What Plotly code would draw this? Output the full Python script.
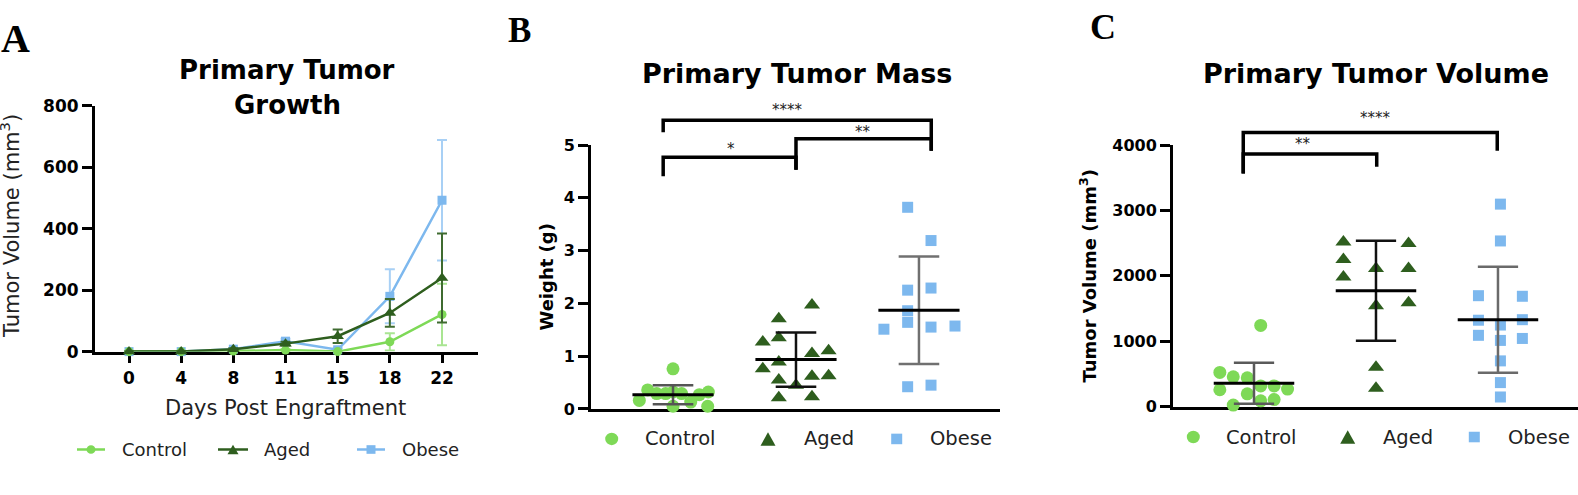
import plotly.graph_objects as go

W, H = 1578, 495
FONT = "DejaVu Sans"
SERIF = "Liberation Serif"

# ---------------- DATA ----------------
days = ["0", "4", "8", "11", "15", "18", "22"]
growth_control = [0, 0, 2, 5, 0, 32, 121]
growth_control_err = [0, 0, 2, 3, 0, 28, 100]
growth_aged = [0, 0, 8, 26, 50, 126, 240]
growth_aged_err = [0, 0, 3, 6, 22, 45, 145]
growth_obese = [0, 0, 8, 34, 6, 180, 493]
growth_obese_err = [0, 0, 4, 8, 5, 88, 196]

groups = ["Control", "Aged", "Obese"]

mass_control = [0.76, 0.36, 0.16, 0.29, 0.29, 0.32, 0.29, 0.05, 0.13, 0.27, 0.32, 0.05]
mass_control_jit = [0.0, -0.206, -0.274, -0.133, -0.06, 0.0, 0.07, 0.0, 0.144, 0.214, 0.287, 0.282]
mass_aged = [1.97, 1.71, 1.27, 1.35, 1.05, 1.10, 0.89, 0.76, 0.55, 0.45, 0.62, 0.63, 0.21, 0.23]
mass_aged_jit = [0.13, -0.14, -0.27, -0.14, 0.13, 0.265, -0.14, -0.27, -0.14, 0.0, 0.13, 0.265, -0.14, 0.13]
mass_obese = [3.82, 3.19, 2.25, 2.29, 1.86, 1.64, 1.51, 1.55, 1.57, 0.42, 0.45]
mass_obese_jit = [-0.092, 0.098, -0.092, 0.098, -0.092, -0.092, -0.285, 0.098, 0.293, -0.092, 0.098]
mass_mean = [0.27, 0.935, 1.87]
mass_sd = [0.18, 0.515, 1.02]

vol_control = [1241, 522, 455, 440, 317, 317, 268, 258, 195, 88, 107, 24]
vol_control_jit = [0.055, -0.28, -0.17, -0.055, 0.055, 0.165, 0.275, -0.28, -0.055, 0.055, 0.165, -0.17]
vol_aged = [2518, 2494, 2249, 2113, 2113, 1981, 1541, 1589, 602, 279]
vol_aged_jit = [-0.267, 0.267, -0.267, 0.0, 0.267, -0.267, 0.0, 0.267, 0.0, 0.0]
vol_obese = [3096, 2533, 1696, 1687, 1321, 1329, 1247, 1090, 1042, 1012, 699, 367, 147]
vol_obese_jit = [0.02, 0.02, -0.16, 0.2, -0.16, 0.2, 0.02, -0.16, 0.2, 0.02, 0.02, 0.02, 0.02]
vol_mean = [356, 1772, 1329]
vol_sd = [314, 765, 810]

# significance: (left group, right group, top, left end, right end, label, label x, label y)
mass_sig = [
    (-0.08, 2.1, 5.47, 5.24, 4.89, "****", 0.927, 5.62),
    (-0.08, 1.0, 4.77, 4.41, 4.53, "*", 0.47, 4.876),
    (1.0, 2.1, 5.12, 4.53, 4.89, "**", 1.547, 5.207),
]
vol_sig = [
    (-0.088, 1.994, 4191, 3565, 3912, "****", 1.0, 4382),
    (-0.088, 1.006, 3864, 3565, 3668, "**", 0.404, 3981),
]

# ---------------- STYLE ----------------
C_CTRL = "#7ED957"
C_AGED = "#2E5E1E"
C_OBESE = "#7DB8EE"
E_CTRL = "#A9E592"
E_AGED = "#3F6B30"
E_OBESE = "#A8D0F5"

PANELS = {
    "A": dict(xd=(95, 478), yd=(100, 356), xr=(-0.652, 6.69), yr=(0, 800)),
    "B": dict(xd=(591, 1000), yd=(140.7, 415.7), xr=(-0.667, 2.659), yr=(0, 5)),
    "C": dict(xd=(1173, 1578), yd=(140.7, 413.3), xr=(-0.664, 2.656), yr=(0, 4000)),
}


def pp(xp, yp):
    return xp / W, 1 - yp / H


def d2px(panel, x, y):
    p = PANELS[panel]
    xp = p["xd"][0] + (x - p["xr"][0]) / (p["xr"][1] - p["xr"][0]) * (p["xd"][1] - p["xd"][0])
    yp = p["yd"][1] - (y - p["yr"][0]) / (p["yr"][1] - p["yr"][0]) * (p["yd"][1] - p["yd"][0])
    return xp, yp


def path_px(points, close=False):
    s = ""
    for i, (x, y) in enumerate(points):
        px_, py_ = pp(x, y)
        s += ("M" if i == 0 else "L") + f"{px_:.6f},{py_:.6f} "
    if close:
        s += "Z"
    return s


fig = go.Figure()
shapes = []
annotations = []


def ann(text, xp, yp, size, bold=False, family=FONT, color="black", xanchor="center",
        yanchor="middle", angle=0):
    x, y = pp(xp, yp)
    annotations.append(dict(
        text=f"<b>{text}</b>" if bold else text, x=x, y=y, xref="paper", yref="paper",
        showarrow=False, xanchor=xanchor, yanchor=yanchor, textangle=angle,
        font=dict(family=family, size=size, color=color)))


# ---------------- PANEL A ----------------
# dashed zero baseline under the data
x0p, y0p = pp(95, 357.5)
x1p, _ = pp(478, 357.5)
shapes.append(dict(type="line", xref="paper", yref="paper", x0=x0p, x1=x1p, y0=y0p, y1=y0p,
                   line=dict(color="black", width=2, dash="3px,2px"), layer="below"))

for vals, errs, col, ecol, sym, size in [
    (growth_obese, growth_obese_err, C_OBESE, E_OBESE, "square", 9),
    (growth_control, growth_control_err, C_CTRL, E_CTRL, "circle", 9),
    (growth_aged, growth_aged_err, C_AGED, E_AGED, "triangle-up", 11),
]:
    fig.add_trace(go.Scatter(
        x=days, y=vals, mode="lines+markers", xaxis="x", yaxis="y",
        line=dict(color=col, width=2.5), marker=dict(symbol=sym, size=size, color=col),
        error_y=dict(type="data", array=errs, color=ecol, thickness=2, width=5),
        cliponaxis=False, showlegend=False, hoverinfo="skip"))


# ---------------- PANELS B, C scatter ----------------
def dot_panel(xa, ya, data, means, sds, sd_colors):
    for i, (vals, jit, col, sym, size) in enumerate(data):
        fig.add_trace(go.Scatter(
            x=[i + j for j in jit], y=vals, mode="markers", xaxis=xa, yaxis=ya,
            marker=dict(symbol=sym, size=size, color=col, line=dict(width=0)),
            cliponaxis=False, showlegend=False, hoverinfo="skip"))
    for i, (m, s) in enumerate(zip(means, sds)):
        sc = sd_colors[i]
        shapes.append(dict(type="line", xref=xa, yref=ya, x0=i, x1=i, y0=m - s, y1=m + s,
                           line=dict(color=sc, width=2.5), layer="above"))
        for v in (m - s, m + s):
            shapes.append(dict(type="line", xref=xa, yref=ya, x0=i - 0.165, x1=i + 0.165, y0=v, y1=v,
                               line=dict(color=sc, width=2.5), layer="above"))
        shapes.append(dict(type="line", xref=xa, yref=ya, x0=i - 0.33, x1=i + 0.33, y0=m, y1=m,
                           line=dict(color="black", width=3), layer="above"))


dot_panel("x2", "y2", [
    (mass_control, mass_control_jit, C_CTRL, "circle", 13),
    (mass_aged, mass_aged_jit, C_AGED, "triangle-up", 14),
    (mass_obese, mass_obese_jit, C_OBESE, "square", 11),
], mass_mean, mass_sd, ["#555555", "#111111", "#707070"])

dot_panel("x3", "y3", [
    (vol_control, vol_control_jit, C_CTRL, "circle", 13),
    (vol_aged, vol_aged_jit, C_AGED, "triangle-up", 14),
    (vol_obese, vol_obese_jit, C_OBESE, "square", 11),
], vol_mean, vol_sd, ["#5a5a5a", "#111111", "#6a6a6a"])

# significance brackets
for panel, sigs in (("B", mass_sig), ("C", vol_sig)):
    for (xl, xr, top, yl, yr, lab, lx, ly) in sigs:
        pts = [d2px(panel, xl, yl), d2px(panel, xl, top), d2px(panel, xr, top), d2px(panel, xr, yr)]
        shapes.append(dict(type="path", xref="paper", yref="paper", path=path_px(pts),
                           line=dict(color="black", width=3.5)))
        lxp, lyp = d2px(panel, lx, ly)
        ann(lab, lxp, lyp - 2.5, 15, color="#222222")


# ---------------- AXES ----------------
def yax(panel, anchor, tickvals, fs):
    p = PANELS[panel]
    return dict(domain=[1 - p["yd"][1] / H, 1 - p["yd"][0] / H], range=list(p["yr"]), anchor=anchor,
                tickvals=tickvals, ticks="outside", ticklen=10, tickwidth=2.5, tickcolor="black",
                tickfont=dict(family=FONT, size=fs, color="black", weight="bold"),
                showline=True, linecolor="black", linewidth=3, showgrid=False, zeroline=False,
                layer="below traces", fixedrange=True)


def xax(panel, anchor, **kw):
    p = PANELS[panel]
    d = dict(domain=[p["xd"][0] / W, min(1.0, p["xd"][1] / W)], range=list(p["xr"]), anchor=anchor,
             showline=True, linecolor="black", linewidth=3, showgrid=False, zeroline=False,
             layer="below traces", fixedrange=True)
    d.update(kw)
    return d


fig.update_layout(
    width=W, height=H, margin=dict(l=0, r=0, t=0, b=0),
    paper_bgcolor="white", plot_bgcolor="rgba(0,0,0,0)", showlegend=False,
    xaxis=xax("A", "y", type="category", linewidth=2.5, ticks="outside", ticklen=9, tickwidth=2.5,
              tickcolor="black", tickfont=dict(family=FONT, size=17, color="black", weight="bold")),
    yaxis=yax("A", "x", [0, 200, 400, 600, 800], 17),
    xaxis2=xax("B", "y2", showticklabels=False, ticks=""),
    yaxis2=yax("B", "x2", [0, 1, 2, 3, 4, 5], 16),
    xaxis3=xax("C", "y3", showticklabels=False, ticks=""),
    yaxis3=yax("C", "x3", [0, 1000, 2000, 3000, 4000], 16),
)

# ---------------- TEXT ----------------
ann("A", 15, 29.5, 40, bold=True, family=SERIF)
ann("B", 519, 21.2, 35, bold=True, family=SERIF)
ann("C", 1102.5, 17.3, 36, bold=True, family=SERIF)

ann("Primary Tumor", 287, 62.7, 26, bold=True)
ann("Growth", 287, 99.3, 26, bold=True)
ann("Primary Tumor Mass", 796.7, 65.7, 27, bold=True)
ann("Primary Tumor Volume", 1375.8, 65.7, 27, bold=True)

ann("Tumor Volume (mm<sup>3</sup>)", 10, 225, 21, color="#222222", angle=-90)
ann("Days Post Engraftment", 285.3, 414.4, 21, color="#222222")
ann("Weight (g)", 546.8, 278, 18, bold=True, angle=-90)
ann("Tumor Volume (mm<sup>3</sup>)", 1087.8, 277, 18, bold=True, angle=-90)


# legends
def circle_px(cx, cy, d, col):
    x0, y0 = pp(cx - d / 2, cy + d / 2)
    x1, y1 = pp(cx + d / 2, cy - d / 2)
    shapes.append(dict(type="circle", xref="paper", yref="paper", x0=x0, y0=y0, x1=x1, y1=y1,
                       fillcolor=col, line=dict(width=0)))


def square_px(cx, cy, s, col):
    x0, y0 = pp(cx - s / 2, cy + s / 2)
    x1, y1 = pp(cx + s / 2, cy - s / 2)
    shapes.append(dict(type="rect", xref="paper", yref="paper", x0=x0, y0=y0, x1=x1, y1=y1,
                       fillcolor=col, line=dict(width=0)))


def tri_px(cx, cy, w, h, col):
    pts = [(cx - w / 2, cy + h / 2), (cx + w / 2, cy + h / 2), (cx, cy - h / 2)]
    shapes.append(dict(type="path", xref="paper", yref="paper", path=path_px(pts, True),
                       fillcolor=col, line=dict(width=0)))


def line_px(x0p, x1p, yp, col):
    x0, y0 = pp(x0p, yp)
    x1, _ = pp(x1p, yp)
    shapes.append(dict(type="line", xref="paper", yref="paper", x0=x0, x1=x1, y0=y0, y1=y0,
                       line=dict(color=col, width=2.5)))


# Panel A legend
yl = 458
line_px(77, 105, yl, C_CTRL); circle_px(91, yl, 9, C_CTRL)
line_px(218, 248, yl, C_AGED); tri_px(233, yl, 11, 10, C_AGED)
line_px(357, 385, yl, C_OBESE); square_px(371, yl, 9, C_OBESE)
for lab, xt in zip(groups, [120, 262, 400]):
    ann(lab, xt, yl, 18, color="#222222", xanchor="left")

# Panel B legend
yl = 447
circle_px(611.7, yl, 13, C_CTRL); tri_px(768, yl, 15, 14, C_AGED); square_px(896.7, yl, 11, C_OBESE)
for lab, xt in zip(groups, [643, 801.7, 928]):
    ann(lab, xt, yl, 19.5, color="#222222", xanchor="left")

# Panel C legend
yl = 445
circle_px(1193.3, yl, 13, C_CTRL); tri_px(1347.7, yl, 15, 14, C_AGED); square_px(1474.3, yl, 11, C_OBESE)
for lab, xt in zip(groups, [1224, 1381, 1505.7]):
    ann(lab, xt, yl, 19.5, color="#222222", xanchor="left")

fig.update_layout(shapes=shapes, annotations=annotations)
fig.write_html("out.html")
